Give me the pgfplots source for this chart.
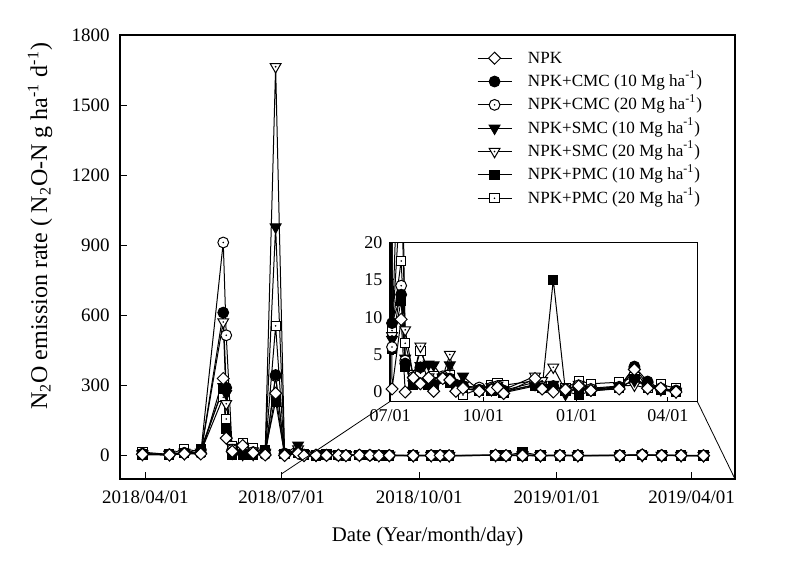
\documentclass[border=0pt]{standalone}
\usepackage{fontspec}
\setmainfont{Liberation Serif}
\usepackage{pgfplots}
\usepackage{pgfplotstable}
\pgfplotsset{compat=1.18}

\pgfdeclareplotmark{ocircdot}{%
  \pgfpathcircle{\pgfpointorigin}{\pgfplotmarksize}%
  \pgfusepathqfillstroke
  \pgfscope\pgfsetfillcolor{black}%
  \pgfpathcircle{\pgfpointorigin}{0.45pt}\pgfusepathqfill\endpgfscope
}
\pgfdeclareplotmark{otridot}{%
  \pgfpathmoveto{\pgfqpoint{0pt}{-\pgfplotmarksize}}%
  \pgfpathlineto{\pgfqpointpolar{30}{\pgfplotmarksize}}%
  \pgfpathlineto{\pgfqpointpolar{150}{\pgfplotmarksize}}%
  \pgfpathclose
  \pgfusepathqfillstroke
  \pgfscope\pgfsetfillcolor{black}%
  \pgfpathcircle{\pgfpointorigin}{0.45pt}\pgfusepathqfill\endpgfscope
}
\pgfdeclareplotmark{osqdot}{%
  \pgfpathrectangle{\pgfqpoint{-\pgfplotmarksize}{-\pgfplotmarksize}}{\pgfqpoint{2\pgfplotmarksize}{2\pgfplotmarksize}}%
  \pgfusepathqfillstroke
  \pgfscope\pgfsetfillcolor{black}%
  \pgfpathcircle{\pgfpointorigin}{0.45pt}\pgfusepathqfill\endpgfscope
}
\pgfdeclareplotmark{itri}{%
  \pgfpathmoveto{\pgfqpoint{0pt}{-\pgfplotmarksize}}%
  \pgfpathlineto{\pgfqpointpolar{30}{\pgfplotmarksize}}%
  \pgfpathlineto{\pgfqpointpolar{150}{\pgfplotmarksize}}%
  \pgfpathclose
  \pgfusepathqfillstroke
}
\pgfdeclareplotmark{dmd}{%
  \pgfpathmoveto{\pgfqpoint{0pt}{\pgfplotmarksize}}%
  \pgfpathlineto{\pgfqpoint{\pgfplotmarksize}{0pt}}%
  \pgfpathlineto{\pgfqpoint{0pt}{-\pgfplotmarksize}}%
  \pgfpathlineto{\pgfqpoint{-\pgfplotmarksize}{0pt}}%
  \pgfpathclose
  \pgfusepathqfillstroke
}

% day 0 = 2018/04/01
\pgfplotstableread{
d    npk   cmc10 cmc20 smc10 smc20 pmc10 pmc20
-2   5     8     8     5     8     5     15
16   3     5     5     4     6     3     5
26   8     10    12    8     15    10    30
37   7     10    12    15    10    28    15
52   330   612   912   295   572   285   250
54   75    290   515   265   222   115   157
58   18    15    25    10    35    5     40
65   43    10    30    5     40    2     55
72   12    8     15    5     20    5     32
80   3     5     8     15    10    22    12
87   267   345   340   978   1664  232   555
93   0.4   9.2   6.0   7.0   7.5   5.7   8.2
102  9.7   13.0  14.2  45    28    12.2  17.5
106  0.0   3.8   4.2   4.5   8.3   3.4   6.5
114  1.9   1.5   2.0   1.5   2.0   0.9   2.2
121  1.1   3.3   2.5   3.5   6.1   2.0   5.5
129  1.9   1.2   1.5   3.7   2.0   1.0   2.8
134  0.1   1.0   1.2   3.6   1.5   0.8   2.1
143  1.8   1.9   2.1   1.9   2.0   1.7   2.0
150  1.6   1.7   1.8   3.6   5.0   1.2   2.3
156  0.1   0.9   1.0   0.6   1.1   0.5   0.7
163  0.5   0.8   0.8   2.1   0.9   0.6   -0.4
179  0.1   0.3   0.6   0.2   0.5   0.1   0.4
191  0.3   0.4   0.6   0.3   0.7   0.2   0.9
197  0.6   0.6   0.8   0.5   0.9   0.4   1.2
203  -0.2  0.1   0.2   0.0   0.3   -0.1  0.9
234  1.8   0.9   1.3   1.0   2.1   0.8   1.5
241  0.4   0.5   0.7   0.6   1.5   0.5   0.8
252  0.0   0.8   0.6   1.0   3.3   15.0  0.5
264  0.3   0.2   0.4   -0.3  0.2   0.1   0.5
277  0.8   0.5   0.9   0.6   1.0   -0.4  1.5
289  0.2   0.2   0.4   0.3   0.5   0.1   1.1
317  0.4   0.6   0.7   0.7   0.8   0.5   1.3
332  3.0   3.4   3.2   1.5   0.9   1.7   2.0
345  0.5   1.4   1.0   0.8   0.5   0.9   0.6
358  0.5   0.4   0.5   0.3   0.4   0.3   1.0
373  0.0   0.1   0.2   0.0   0.1   0.0   0.5
}\data

\pgfplotsset{
  base/.style={black, line width=0.5pt},
  snpk/.style={base, mark=dmd, mark size=3pt, mark options={solid, fill=white, line width=0.5pt}},
  scmcA/.style={base, mark=*, mark size=2.7pt, mark options={solid, fill=black}},
  scmcB/.style={base, mark=ocircdot, mark size=2.7pt, mark options={solid, fill=white, line width=0.5pt}},
  ssmcA/.style={base, mark=itri, mark size=3.1pt, mark options={solid, fill=black}},
  ssmcB/.style={base, mark=otridot, mark size=3.1pt, mark options={solid, fill=white, line width=0.5pt}},
  spmcA/.style={base, mark=square*, mark size=2.3pt, mark options={solid, fill=black}},
  spmcB/.style={base, mark=osqdot, mark size=2.3pt, mark options={solid, fill=white, line width=0.5pt}},
}

\begin{document}
\begin{tikzpicture}
\useasboundingbox (0,0) rectangle (394.5pt,282.5pt);
\begin{axis}[
  name=main,
  at={(60pt,43pt)}, anchor=south west,
  width=307.5pt, height=222pt, scale only axis,
  xmin=-17, xmax=394, ymin=-100, ymax=1800,
  xtick={0,91,183,275,365},
  xticklabels={2018/04/01,2018/07/01,2018/10/01,2019/01/01,2019/04/01},
  ytick={0,300,600,900,1200,1500,1800},
  yticklabels={0,300,600,900,1200,1500,1800},
  tick align=inside, tick pos=left,
  major tick length=3.5pt,
  tick style={black, line width=0.5pt},
  axis line style={black, line width=0.6pt},
  ticklabel style={font=\fontsize{9.5}{11}\selectfont},
  xticklabel style={anchor=center, yshift=-9pt},
  yticklabel style={anchor=east, inner sep=0pt, xshift=-5pt},
  xlabel={Date (Year/month/day)},
  xlabel style={font=\fontsize{10.4}{12}\selectfont, at={(axis description cs:0.5,-0.1306)}, anchor=center},
  ylabel={N\textsubscript{2}O emission rate ( N\textsubscript{2}O-N g ha\textsuperscript{-1} d\textsuperscript{-1})},
  ylabel style={font=\fontsize{12}{14}\selectfont, at={(axis description cs:-0.130,0.569)}, anchor=center},
  legend style={at={(axis description cs:0.5805,0.968)}, anchor=north west,
    draw=none, fill=none, inner sep=0pt, outer sep=0pt,
    row sep=2.67pt, column sep=7.9pt,
    font=\fontsize{8.55}{10}\selectfont,
    nodes={inner sep=0pt, text height=7pt, text depth=2pt}},
  legend cell align=left,
  reverse legend,
]
\addplot[spmcB] table[x=d, y=pmc20] {\data};
\addlegendentry{NPK+PMC (20 Mg ha\textsuperscript{-1})}
\addplot[spmcA] table[x=d, y=pmc10] {\data};
\addlegendentry{NPK+PMC (10 Mg ha\textsuperscript{-1})}
\addplot[ssmcB] table[x=d, y=smc20] {\data};
\addlegendentry{NPK+SMC (20 Mg ha\textsuperscript{-1})}
\addplot[ssmcA] table[x=d, y=smc10] {\data};
\addlegendentry{NPK+SMC (10 Mg ha\textsuperscript{-1})}
\addplot[scmcB] table[x=d, y=cmc20] {\data};
\addlegendentry{NPK+CMC (20 Mg ha\textsuperscript{-1})}
\addplot[scmcA] table[x=d, y=cmc10] {\data};
\addlegendentry{NPK+CMC (10 Mg ha\textsuperscript{-1})}
\addplot[snpk] table[x=d, y=npk] {\data};
\addlegendentry{NPK}
\coordinate (mA) at (axis cs:91,-78);
\coordinate (mB) at (rel axis cs:1,0);
\end{axis}

\begin{axis}[
  name=inset,
  at={(195pt,81.75pt)}, anchor=south west,
  width=153.65pt, height=79.6pt, scale only axis,
  xmin=91, xmax=394, ymin=-1.27, ymax=20,
  xtick={91,183,275,365},
  xticklabels={07/01,10/01,01/01,04/01},
  ytick={0,5,10,15,20},
  yticklabels={0,5,10,15,20},
  tick align=inside, tick pos=left,
  major tick length=2pt,
  tick style={black, line width=0.5pt},
  axis line style={black, line width=0.6pt},
  axis background/.style={fill=white},
  ticklabel style={font=\fontsize{9}{10}\selectfont},
  xticklabel style={anchor=center, yshift=-7.3pt},
  yticklabel style={anchor=east, inner sep=0pt, xshift=-3.6pt},
]
\addplot[spmcB, forget plot] table[x=d, y=pmc20] {\data};
\addplot[spmcA, forget plot] table[x=d, y=pmc10] {\data};
\addplot[ssmcB, forget plot] table[x=d, y=smc20] {\data};
\addplot[ssmcA, forget plot] table[x=d, y=smc10] {\data};
\addplot[scmcB, forget plot] table[x=d, y=cmc20] {\data};
\addplot[scmcA, forget plot] table[x=d, y=cmc10] {\data};
\addplot[snpk, forget plot] table[x=d, y=npk] {\data};
\coordinate (iA) at (rel axis cs:0,0);
\coordinate (iB) at (rel axis cs:1,0);
\end{axis}
\draw[black, line width=0.4pt] (iA) -- (mA);
\draw[black, line width=0.4pt] (iB) -- (mB);
\end{tikzpicture}
\end{document}
